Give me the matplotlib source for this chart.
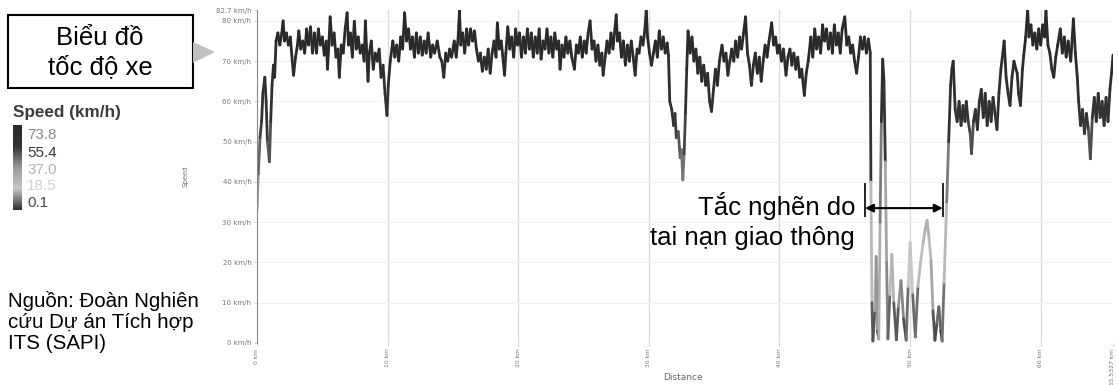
import numpy as np
import matplotlib
matplotlib.use("Agg")
import matplotlib.pyplot as plt
from matplotlib.collections import LineCollection
from matplotlib.colors import LinearSegmentedColormap
from matplotlib.patches import Rectangle, Polygon

# speed trace, segment by segment (km, km/h)
dist_start = [0.0, 0.1, 0.23, 0.35, 0.45, 0.6, 0.7, 0.8, 0.95, 1.05, 1.15, 1.26, 1.35, 1.46]
speed_start = [33, 42, 51, 55, 62, 66, 60, 50, 45, 55, 64, 69, 66, 75]

dist_b = [1.6, 1.75, 1.9, 2.0, 2.1, 2.25, 2.4, 2.55, 2.7, 2.8,
          2.95, 3.1, 3.2, 3.35, 3.5, 3.65, 3.8, 3.95, 4.1, 4.25,
          4.4, 4.55, 4.7, 4.85, 5.0, 5.15, 5.3, 5.4, 5.5, 5.6,
          5.75, 5.9, 6.05, 6.2, 6.3, 6.45, 6.6, 6.75, 6.9, 7.0,
          7.15, 7.3, 7.45, 7.6, 7.75, 7.9, 8.05, 8.2, 8.3, 8.4,
          8.5, 8.6, 8.75, 8.9, 9.05, 9.2, 9.35, 9.5, 9.65, 9.8,
          9.95, 10.05, 10.2, 10.4]
speed_b = [77, 74, 77, 80, 75, 77, 74, 76, 70, 66.5,
           71, 74, 77.5, 73, 75, 72, 78, 74, 78.5, 72,
           77, 72, 78, 74, 76, 71.5, 75, 68, 74, 81,
           74, 77, 71, 73, 66, 74, 72, 78, 82, 74,
           77, 71, 79.9, 73, 76, 72, 74, 70, 80, 72,
           65, 72, 75, 68, 72, 70, 73, 66, 69, 62,
           56.5, 64, 70, 75]

dist_c = [10.55, 10.7, 10.85, 11.0, 11.15, 11.3, 11.45, 11.6, 11.75, 11.9,
          12.05, 12.2, 12.35, 12.5, 12.65, 12.8, 12.95, 13.1, 13.3, 13.45,
          13.6, 13.8, 14.0, 14.15, 14.3, 14.45, 14.6, 14.75, 14.9, 15.1,
          15.25, 15.4, 15.5, 15.6, 15.75, 15.9, 16.05, 16.2, 16.35, 16.5,
          16.65, 16.8, 16.95, 17.1, 17.25, 17.4, 17.55, 17.7, 17.85, 18.0,
          18.15, 18.3, 18.4, 18.55, 18.7, 18.85, 18.95, 19.05, 19.2, 19.35,
          19.5, 19.65, 19.8, 19.95]
speed_c = [71, 74, 70, 76, 73, 82, 75, 78, 73, 76,
           71, 77, 72, 76, 71.5, 75, 72, 77, 71, 74,
           72, 75, 71, 70, 66, 72, 70, 73, 71, 75,
           71, 76, 82.6, 74, 77, 72, 78, 74, 78, 75,
           77.5, 73, 70, 72, 67.5, 71, 68, 73, 67, 72,
           75, 71, 79.5, 73, 75, 70, 66.5, 72, 78.5, 73,
           76, 71, 78, 74]

dist_d = [20.1, 20.25, 20.4, 20.55, 20.7, 20.85, 21.0, 21.15, 21.3, 21.45,
          21.6, 21.75, 21.9, 22.05, 22.2, 22.35, 22.5, 22.65, 22.8, 22.95,
          23.1, 23.2, 23.35, 23.5, 23.65, 23.8, 23.95, 24.1, 24.3, 24.45,
          24.6, 24.75, 24.9, 25.05, 25.2, 25.35, 25.5, 25.65, 25.8, 25.95,
          26.1, 26.25, 26.4, 26.5, 26.65, 26.8, 26.95, 27.1, 27.25, 27.4,
          27.5, 27.6, 27.75, 27.9, 28.05, 28.2, 28.35, 28.5, 28.65, 28.8,
          28.95, 29.1, 29.25, 29.4, 29.55, 29.7, 29.8, 29.9, 30.05, 30.2,
          30.35, 30.5, 30.65, 30.8, 30.95, 31.1, 31.25, 31.4, 31.5]
speed_d = [77, 71, 76, 72, 78, 73, 77, 71, 76, 72,
           78, 70.5, 75, 73, 78, 72, 76, 71, 77, 73,
           75, 68, 74, 71, 76, 72, 75, 71, 68, 74,
           72, 76, 71, 75, 72, 77, 80, 73, 75, 70,
           74, 69, 72, 66.5, 71, 75, 72, 77, 73, 78,
           81.5, 75, 77, 71, 75, 69, 74, 70, 75, 71,
           66.5, 73, 72, 76, 74, 78, 82.8, 76, 72, 69,
           72, 75, 71, 77.5, 73, 76, 72, 74.5, 71.5]

dist_e = [31.6, 31.75, 31.9, 32.0, 32.1, 32.25, 32.4, 32.5, 32.6, 32.7, 32.8, 32.9, 33.0]
speed_e = [60, 58, 54, 57, 51, 52.5, 46, 48, 40.5, 47, 57, 68, 77.5]

dist_f = [33.15, 33.3, 33.45, 33.6, 33.75, 33.9, 34.05, 34.2, 34.35, 34.5,
          34.65, 34.8, 34.95, 35.1, 35.25, 35.4, 35.6, 35.75, 35.9, 36.05,
          36.2, 36.35, 36.5, 36.65, 36.8, 36.95, 37.1, 37.25, 37.4, 37.55,
          37.7, 37.85, 38.0, 38.15, 38.3, 38.45, 38.6, 38.75, 38.9, 39.05,
          39.2, 39.4, 39.55, 39.7, 39.85, 40.0, 40.15, 40.3, 40.5, 40.65,
          40.8, 40.95, 41.1, 41.25, 41.4, 41.55, 41.7, 41.9, 42.05, 42.2,
          42.4, 42.55, 42.7, 42.85, 43.0, 43.15, 43.3, 43.45, 43.6, 43.75,
          43.9, 44.05, 44.2, 44.35, 44.5, 44.65, 44.8, 45.0, 45.15, 45.3,
          45.45, 45.6, 45.75, 45.9, 46.05, 46.2, 46.35, 46.5, 46.65, 46.8,
          46.95]
speed_f = [72, 76, 70, 73, 67, 71, 65, 69, 64, 67,
           60, 57.5, 63, 68, 64, 70, 74, 70, 72, 66.5,
           70, 73, 70, 75, 71, 76, 73, 77, 81, 72,
           69, 64, 69, 72, 67, 71, 65, 70, 74, 71,
           75, 79.5, 74, 76, 72, 74, 70, 73, 66.5, 71,
           73, 69, 72, 68, 71, 66, 68, 61.5, 67, 70,
           76, 71, 78, 73, 76, 72, 79, 75, 78, 73,
           77, 72, 79, 74, 77, 72, 78, 81, 74, 76,
           72, 74, 70, 67, 71, 76, 73, 76, 72, 75.5,
           72]

# accident congestion
dist_g = [47.0, 47.08, 47.15, 47.3, 47.4, 47.5, 47.6, 47.7, 47.8, 47.9,
          48.0, 48.1, 48.2, 48.3, 48.45, 48.6, 48.75, 48.95, 49.1, 49.3,
          49.5, 49.7, 49.85, 50.0, 50.2, 50.4, 50.6, 50.8, 51.0, 51.15,
          51.3, 51.45, 51.6, 51.75, 51.9, 52.05, 52.2, 52.35, 52.45]
speed_g = [40, 10, 0.5, 8, 21.5, 3, 1, 30, 55, 70.5,
           65, 45, 20, 1, 12, 22, 10, 0.8, 9, 15.5,
           6, 0.7, 14, 25, 12, 1.5, 14, 20, 25, 28,
           30.5, 26, 20.5, 8, 0.7, 5, 9, 3, 0.5]

dist_h = [52.6, 52.8, 52.95, 53.1, 53.2, 53.3, 53.45, 53.6, 53.75, 53.9,
          54.05, 54.2, 54.3, 54.45, 54.6, 54.7, 54.85, 55.0, 55.15, 55.3,
          55.45, 55.6, 55.75, 55.9, 56.05, 56.2, 56.35, 56.5, 56.65, 56.8,
          56.95, 57.1, 57.2, 57.35, 57.5, 57.65, 57.8, 57.95, 58.1, 58.2,
          58.3, 58.45, 58.6, 58.7, 58.85, 59.0, 59.1, 59.25, 59.4, 59.55,
          59.7, 59.85, 60.0, 60.15, 60.3, 60.4, 60.55, 60.7, 60.85, 61.0,
          61.15, 61.3, 61.5, 61.65, 61.8, 61.95, 62.1, 62.3, 62.5, 62.65,
          62.8, 62.9, 63.05, 63.2, 63.35, 63.5, 63.65, 63.8, 63.95, 64.1,
          64.25, 64.4, 64.55, 64.7, 64.85, 65.0, 65.15, 65.3, 65.45, 65.53]
speed_h = [15, 35, 50, 64, 68, 70, 58, 55, 60, 54,
           59, 55, 60, 55, 52, 47, 55, 58, 53, 60,
           63, 56, 62, 54, 60, 55, 61, 57, 53, 62,
           68, 72, 75, 66, 62, 59, 66, 70, 68, 67,
           62, 59, 68, 71.5, 76, 82.8, 76, 79, 74, 77,
           73, 78, 74, 79, 76, 82.5, 74, 72, 68, 66,
           71, 74, 78, 72, 76, 71, 75, 70, 80.5, 72,
           66, 60, 54, 58, 52, 57, 53, 45.75, 56, 61,
           55, 62, 56, 60, 54, 61, 55, 63, 68, 71.5]

distance_km = np.array(dist_start + dist_b + dist_c + dist_d + dist_e + dist_f + dist_g + dist_h)
speed_kmh = np.array(speed_start + speed_b + speed_c + speed_d + speed_e + speed_f + speed_g + speed_h)
assert len(distance_km) == len(speed_kmh)

route_length = 65.5327
speed_max = 82.7
x_ticks = [0, 10, 20, 30, 40, 50, 60, route_length]
x_labels = ["0 km", "10 km", "20 km", "30 km", "40 km", "50 km", "60 km", "65.5327 km"]
y_ticks = [0, 10, 20, 30, 40, 50, 60, 70, 80, speed_max]
y_labels = ["0 km/h", "10 km/h", "20 km/h", "30 km/h", "40 km/h", "50 km/h",
            "60 km/h", "70 km/h", "80 km/h", "82.7 km/h"]
legend_values = [73.8, 55.4, 37.0, 18.5, 0.1]
legend_colors = ["#8a8a8a", "#363636", "#b2b2b2", "#d2d2d2", "#4a4a4a"]

FONT = ["Liberation Sans", "DejaVu Sans"]
W, H = 1118, 385


def fx(px):
    return px / W


def fy(py):
    return 1 - py / H


cmap = LinearSegmentedColormap.from_list("speed", [
    (0.0, "#333333"),
    (18.5 / 73.8, "#c8c8c8"),
    (37.0 / 73.8, "#999999"),
    (55.4 / 73.8, "#333333"),
    (1.0, "#2a2a2a"),
])

fig = plt.figure(figsize=(W / 100, H / 100), dpi=100)
ax = fig.add_axes([fx(257), fy(343), fx(1113) - fx(257), fy(10) - fy(343)])

pts = np.column_stack([distance_km, speed_kmh])
segs = np.stack([pts[:-1], pts[1:]], axis=1)
seg_speed = (speed_kmh[:-1] + speed_kmh[1:]) / 2
lc = LineCollection(segs, cmap=cmap, norm=plt.Normalize(0.1, 73.8), linewidths=2.0,
                    capstyle="round", joinstyle="round")
lc.set_array(np.clip(seg_speed, 0.1, 73.8))
ax.add_collection(lc)

ax.set_xlim(0, route_length)
ax.set_ylim(0, speed_max)
ax.set_xticks(x_ticks)
ax.set_xticklabels(x_labels, rotation=90, fontsize=4.3, color="#777777")
ax.set_yticks(y_ticks)
ax.set_yticklabels(y_labels, fontsize=5, color="#777777")
ax.tick_params(length=2, width=0.5, color="#bbbbbb", pad=2)
for x in x_ticks[1:-1]:
    ax.axvline(x, color="#dcdcdc", lw=1, zorder=0)
for y in y_ticks[1:-1]:
    ax.axhline(y, color="#f3f3f3", lw=0.8, zorder=0)
for s in ["top", "right", "bottom"]:
    ax.spines[s].set_visible(False)
ax.spines["left"].set_color("#888888")
ax.spines["left"].set_linewidth(0.8)
ax.set_ylabel("Speed", fontsize=5, color="#777777", labelpad=20)
fig.text(fx(683), fy(378), "Distance", ha="center", va="center", fontsize=6.5, color="#666666")

# bracket over the congestion stretch
jam_start, jam_end = 46.55, 52.5
bar_low, bar_high, arrow_y = 31.3, 39.7, 33.5
ax.vlines([jam_start, jam_end], bar_low, bar_high, color="black", lw=1.2, clip_on=False)
ax.annotate("", xy=(jam_end, arrow_y), xytext=(jam_start, arrow_y),
            arrowprops=dict(arrowstyle="<|-|>", color="black", lw=1.5,
                            mutation_scale=12, shrinkA=0, shrinkB=0))
fig.text(fx(855), fy(221), "Tắc nghẽn do\ntai nạn giao thông", ha="right", va="center",
         multialignment="right", fontsize=18.5, family=FONT, linespacing=1.28)

# title box with pointer
fig.patches.append(Rectangle((fx(8), fy(88)), fx(193) - fx(8), fy(15) - fy(88),
                             transform=fig.transFigure, facecolor="white",
                             edgecolor="black", lw=1.5))
fig.patches.append(Polygon([(fx(193), fy(42)), (fx(215), fy(52)), (fx(193), fy(63))],
                           closed=True, transform=fig.transFigure,
                           facecolor="#c0c0c0", edgecolor="none"))
fig.text(fx(100), fy(53), "Biểu đồ\ntốc độ xe", ha="center", va="center",
         fontsize=18.5, family=FONT, linespacing=1.28)

# speed legend
fig.text(fx(13), fy(113), "Speed (km/h)", ha="left", va="center", fontsize=12.3,
         fontweight="bold", color="#3c3c3c", family=FONT)
cax = fig.add_axes([fx(13), fy(210), fx(22) - fx(13), fy(125) - fy(210)])
ramp = np.linspace(73.8, 0.1, 100).reshape(-1, 1)
cax.imshow(ramp, cmap=cmap, norm=plt.Normalize(0.1, 73.8), aspect="auto")
cax.axis("off")
for val, col, py in zip(legend_values, legend_colors, [135, 153, 170, 186, 203]):
    fig.text(fx(27), fy(py), f"{val:.1f}", ha="left", va="center", fontsize=11,
             color=col, family=FONT)

fig.text(fx(8), fy(322), "Nguồn: Đoàn Nghiên\ncứu Dự án Tích hợp\nITS (SAPI)",
         ha="left", va="center", fontsize=14.8, family=FONT, linespacing=1.15)

fig.savefig("out.png", dpi=100)
